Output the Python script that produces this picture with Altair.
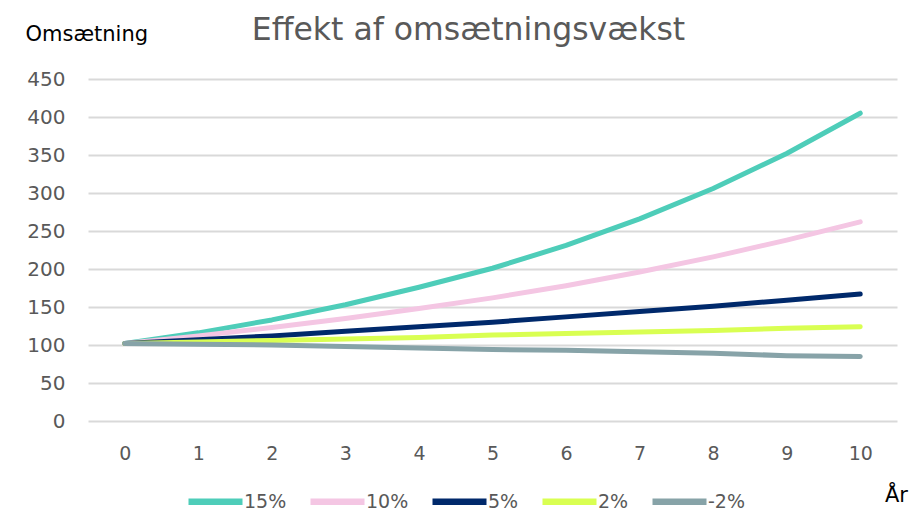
import altair as alt
import pandas as pd

years = [0, 1, 2, 3, 4, 5, 6, 7, 8, 9, 10]
series_names = ["15%", "10%", "5%", "2%", "-2%"]
colors = ["#4ecdb9", "#f4c6e3", "#00296b", "#d9ff52", "#87a3a8"]
v15 = [102, 116, 133, 153, 176, 201, 231, 266, 306, 352, 405]
v10 = [102, 112, 123, 135, 148, 162, 178, 196, 216, 238, 262]
v5 = [102, 107, 112, 118, 124, 130, 137, 144, 151, 159, 167]
v2 = [102, 104, 106, 108, 110, 113, 115, 117, 119, 122, 124]
vm2 = [102, 101, 100, 98, 96, 94, 93, 91, 89, 86, 85]

rows = []
for name, vals in zip(series_names, [v15, v10, v5, v2, vm2]):
    for y, v in zip(years, vals):
        rows.append({"År": y, "Omsætning": v, "Serie": name})
df = pd.DataFrame(rows)

FONT = "DejaVu Sans"

chart = alt.Chart(df).mark_line(strokeWidth=5, strokeCap="round", strokeJoin="round").encode(
    x=alt.X("År:Q",
            scale=alt.Scale(domain=[-0.5, 10.5], nice=False, zero=False),
            axis=alt.Axis(values=years, format="d", grid=False, domain=False, ticks=False,
                          labelPadding=23, labelFontSize=19, labelColor="#595959", labelFont=FONT,
                          title="År", titleFont=FONT, titleFontSize=21, titleFontWeight="normal",
                          titleColor="#000000", titleX=808, titleY=80, titleAlign="center",
                          titleBaseline="alphabetic")),
    y=alt.Y("Omsætning:Q",
            scale=alt.Scale(domain=[0, 450], nice=False),
            axis=alt.Axis(values=list(range(0, 451, 50)), grid=True, gridColor="#d9d9d9", gridWidth=2,
                          domain=False, ticks=False, labelPadding=23, labelFontSize=20,
                          labelColor="#595959", labelFont=FONT,
                          title="Omsætning", titleFont=FONT, titleFontSize=21, titleFontWeight="normal",
                          titleColor="#000000", titleAngle=0, titleX=-63, titleY=-39,
                          titleAlign="left", titleBaseline="alphabetic")),
    color=alt.Color("Serie:N",
                    scale=alt.Scale(domain=series_names, range=colors),
                    sort=series_names,
                    legend=alt.Legend(title=None, orient="none", direction="horizontal",
                                      legendX=115, legendY=410, symbolType="M-3,0H3",
                                      symbolSize=324, symbolStrokeWidth=6.5, labelFont=FONT,
                                      labelFontSize=19, labelColor="#595959", labelOffset=16,
                                      columnPadding=10)),
).properties(
    width=809,
    height=342,
    title=alt.TitleParams("Effekt af omsætningsvækst", font=FONT, fontSize=31.5, color="#595959",
                          fontWeight="normal", anchor="middle", dx=-24, offset=-48,
                          baseline="alphabetic"),
    autosize="none",
    padding={"left": 80, "top": 71, "right": 14, "bottom": 90},
).configure_view(stroke=None)

chart.save("out.html", embed_options={"renderer": "svg", "actions": False})
